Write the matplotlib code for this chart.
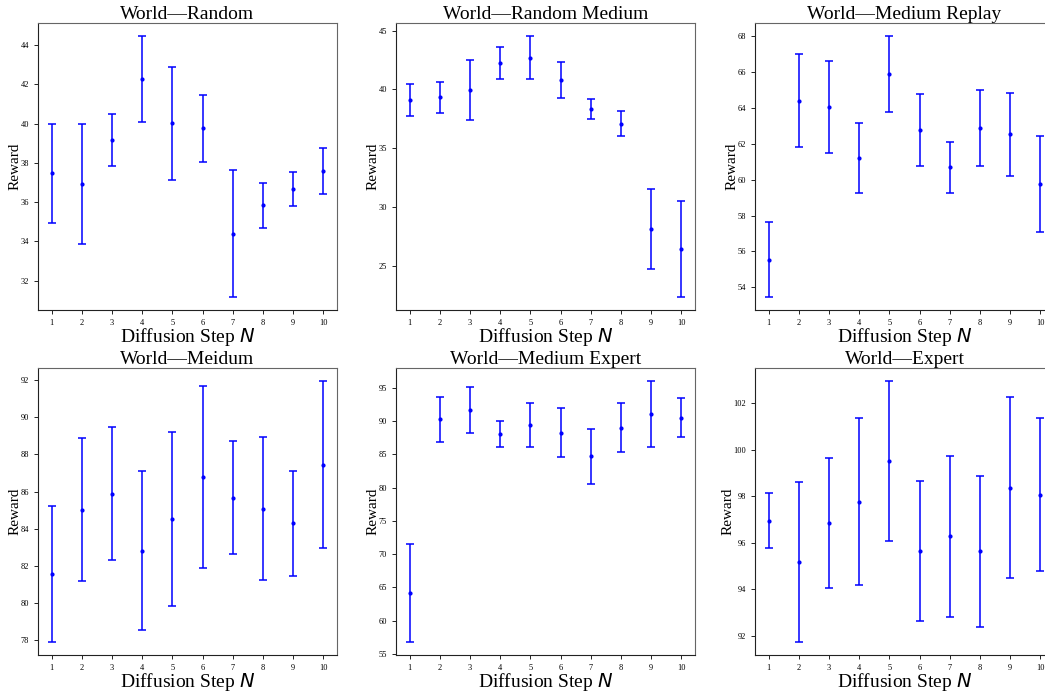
import matplotlib
matplotlib.use('Agg')
import matplotlib.pyplot as plt

plt.rcParams['font.family'] = ['Liberation Serif', 'DejaVu Serif']

steps = [1, 2, 3, 4, 5, 6, 7, 8, 9, 10]

titles = ['World\u2014Random', 'World\u2014Random Medium', 'World\u2014Medium Replay',
          'World\u2014Meidum', 'World\u2014Medium Expert', 'World\u2014Expert']

random_mean = [37.46, 36.92, 39.16, 42.28, 40.01, 39.76, 34.40, 35.83, 36.67, 37.60]
random_err = [2.52, 3.05, 1.32, 2.18, 2.87, 1.70, 3.23, 1.17, 0.86, 1.17]

random_medium_mean = [39.11, 39.33, 39.97, 42.28, 42.70, 40.78, 38.36, 37.08, 28.14, 26.41]
random_medium_err = [1.39, 1.30, 2.53, 1.35, 1.85, 1.52, 0.84, 1.07, 3.40, 4.08]

medium_replay_mean = [55.54, 64.40, 64.05, 61.22, 65.89, 62.78, 60.68, 62.88, 62.52, 59.77]
medium_replay_err = [2.08, 2.59, 2.57, 1.94, 2.12, 2.01, 1.43, 2.12, 2.33, 2.68]

medium_mean = [81.56, 85.02, 85.89, 82.81, 84.53, 86.77, 85.67, 85.07, 84.28, 87.45]
medium_err = [3.67, 3.86, 3.58, 4.29, 4.69, 4.91, 3.05, 3.85, 2.82, 4.51]

medium_expert_mean = [64.19, 90.24, 91.64, 88.08, 89.43, 88.27, 84.72, 88.98, 91.01, 90.51]
medium_expert_err = [7.38, 3.41, 3.41, 1.96, 3.31, 3.61, 4.11, 3.71, 4.99, 2.89]

expert_mean = [96.95, 95.18, 96.87, 97.76, 99.53, 95.65, 96.28, 95.64, 98.38, 98.08]
expert_err = [1.18, 3.44, 2.80, 3.59, 3.43, 3.01, 3.47, 3.24, 3.88, 3.30]

means = [random_mean, random_medium_mean, medium_replay_mean,
         medium_mean, medium_expert_mean, expert_mean]
errs = [random_err, random_medium_err, medium_replay_err,
        medium_err, medium_expert_err, expert_err]

W, H = 1045, 691
fig = plt.figure(figsize=(W / 100, H / 100), dpi=100)

# pixel boxes (left, top) of each panel, right column runs past the edge
lefts = [38, 396, 755]
tops = [23, 368]
pw, ph = 299, 287

for i in range(6):
    r, c = divmod(i, 3)
    ax = fig.add_axes([lefts[c] / W, 1 - (tops[r] + ph) / H, pw / W, ph / H])
    ax.errorbar(steps, means[i], yerr=errs[i], fmt='.', color='blue',
                ecolor='blue', elinewidth=1.1, capsize=3, capthick=1.1, markersize=4)
    ax.set_xticks(steps)
    ax.tick_params(labelsize=6, length=3, width=0.6)
    ax.set_title(titles[i], fontsize=14, pad=2)
    ax.set_xlabel('Diffusion Step $N$', fontsize=14, labelpad=-1)
    ax.set_ylabel('Reward', fontsize=11, labelpad=-1)
    for s in ['top', 'right']:
        ax.spines[s].set_color('#666666')
    for s in ['left', 'bottom']:
        ax.spines[s].set_color('#222222')

fig.savefig('out.png', dpi=100)
